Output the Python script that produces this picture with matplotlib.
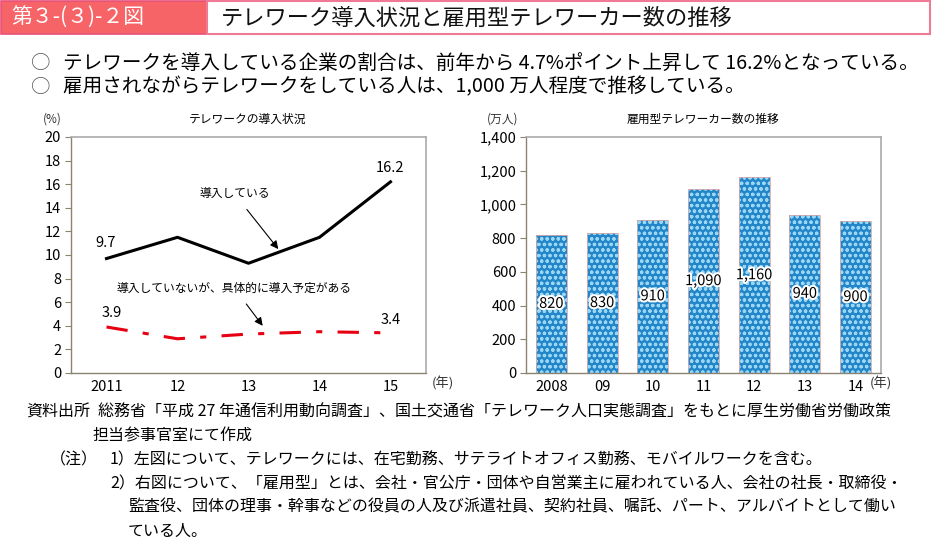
import matplotlib
matplotlib.use("Agg")
import matplotlib.pyplot as plt
import matplotlib.patches as mpatches
import matplotlib.patheffects as pe
import numpy as np

plt.rcParams['font.family'] = ['Noto Sans CJK JP', 'DejaVu Sans']
plt.rcParams['hatch.linewidth'] = 0.9

# 左図: テレワークの導入状況 (%)
years_l = ['2011', '12', '13', '14', '15']
introduced = [9.7, 11.5, 9.3, 11.5, 16.2]
planned = [3.9, 2.9, 3.3, 3.5, 3.4]

# 右図: 雇用型テレワーカー数 (万人)
years_r = ['2008', '09', '10', '11', '12', '13', '14']
workers = [820, 830, 910, 1090, 1160, 940, 900]

W, H = 932, 552
fig = plt.figure(figsize=(W / 100, H / 100), dpi=100)


def box(x0, y0, x1, y1):
    # ピクセル座標 -> figure 座標
    return [x0 / W, 1 - y1 / H, (x1 - x0) / W, (y1 - y0) / H]


def ftext(x, y, s, **kw):
    fig.text(x / W, 1 - y / H, s, **kw)


# ===== ヘッダー =====
fig.patches.append(mpatches.Rectangle((1 / W, 1 - 34 / H), 206 / W, 33 / H,
                                      transform=fig.transFigure, facecolor='#f76468',
                                      edgecolor='#e8507a', lw=1.2))
fig.patches.append(mpatches.Rectangle((207 / W, 1 - 34 / H), 723 / W, 33 / H,
                                      transform=fig.transFigure, facecolor='white',
                                      edgecolor='#f07a95', lw=1.5))
ftext(11, 18, '第３-(３)-２図', color='white', fontsize=15, va='center', ha='left')
ftext(221, 18, 'テレワーク導入状況と雇用型テレワーカー数の推移', color='#111111',
      fontsize=16, va='center', ha='left')

ftext(31, 63, '○', fontsize=14, va='center', color='#555555')
ftext(63, 63, 'テレワークを導入している企業の割合は、前年から 4.7%ポイント上昇して 16.2%となっている。',
      fontsize=14.1, va='center')
ftext(31, 87, '○', fontsize=14, va='center', color='#555555')
ftext(63, 87, '雇用されながらテレワークをしている人は、1,000 万人程度で推移している。',
      fontsize=14.1, va='center')

# ===== 左図 =====
ax1 = fig.add_axes(box(71, 137, 426, 373))
x = np.arange(len(years_l))
ax1.plot(x, introduced, color='black', lw=2.2)
ax1.plot(x, planned, color='#e60012', lw=2.2, dashes=(7, 5, 2, 5))
ax1.set_xlim(-0.5, 4.5)
ax1.set_ylim(0, 20)
ax1.set_yticks(range(0, 21, 2))
ax1.set_xticks(x)
ax1.set_xticklabels(years_l)

ax1.text(x[0] - 0.02, introduced[0] + 0.7, f'{introduced[0]}', ha='center', va='bottom', fontsize=10.5)
ax1.text(x[-1], introduced[-1] + 0.6, f'{introduced[-1]}', ha='center', va='bottom', fontsize=10.5)
ax1.text(x[0] + 0.08, planned[0] + 0.6, f'{planned[0]}', ha='center', va='bottom', fontsize=10.5)
ax1.text(x[-1], planned[-1] + 0.5, f'{planned[-1]}', ha='center', va='bottom', fontsize=10.5)

ax1.annotate('導入している', xy=(2.42, 10.5), xytext=(1.8, 15.2),
             ha='center', va='center', fontsize=8.5,
             arrowprops=dict(arrowstyle='-|>', color='black', lw=0.8,
                             shrinkA=6, shrinkB=0, mutation_scale=12))
ax1.annotate('導入していないが、具体的に導入予定がある', xy=(2.2, 4.0), xytext=(1.8, 7.2),
             ha='center', va='center', fontsize=8.5,
             arrowprops=dict(arrowstyle='-|>', color='black', lw=0.8,
                             shrinkA=6, shrinkB=0, mutation_scale=12))

ftext(52, 119, '(%)', fontsize=8.5, ha='center', va='center', color='#333333')
ftext(248, 119, 'テレワークの導入状況', fontsize=8.5, ha='center', va='center')
ftext(443, 384, '(年)', fontsize=9.5, ha='center', va='center', color='#333333')

# ===== 右図 =====
ax2 = fig.add_axes(box(526, 137, 881, 373))
xr = np.arange(len(years_r))
ax2.bar(xr, workers, width=0.61, color='#2286c8', edgecolor='#9ad6f5', hatch='ooo',
        linewidth=0)
ax2.bar(xr, workers, width=0.61, fill=False, edgecolor='#d9a9a9', linewidth=0.6)
for xi, v in zip(xr, workers):
    ax2.text(xi, v / 2, f'{v:,}', ha='center', va='center', fontsize=10.5,
             path_effects=[pe.withStroke(linewidth=3, foreground='white')])
ax2.set_xlim(-0.5, 6.5)
ax2.set_ylim(0, 1400)
ax2.set_yticks(range(0, 1401, 200))
ax2.set_yticklabels([f'{v:,}' for v in range(0, 1401, 200)])
ax2.set_xticks(xr)
ax2.set_xticklabels(years_r)

ftext(503, 119, '(万人)', fontsize=8.5, ha='center', va='center', color='#333333')
ftext(703, 119, '雇用型テレワーカー数の推移', fontsize=8.5, ha='center', va='center')
ftext(881, 384, '(年)', fontsize=9.5, ha='center', va='center', color='#333333')

for ax in (ax1, ax2):
    for s in ('top', 'right'):
        ax.spines[s].set_color('#aaaaaa')
        ax.spines[s].set_linewidth(1.2)
    for s in ('left', 'bottom'):
        ax.spines[s].set_color('#8c8470')
        ax.spines[s].set_linewidth(1.0)
    ax.tick_params(axis='y', direction='out', length=4, width=0.8, color='#8c8470',
                   labelsize=10.5, pad=3)
    ax.tick_params(axis='x', length=0, labelsize=10.5, pad=5)

# ===== 注記 =====
fs = 11.5
ftext(26, 412, '資料出所', fontsize=fs, va='center')
ftext(98, 412, '総務省「平成 27 年通信利用動向調査」、国土交通省「テレワーク人口実態調査」をもとに厚生労働省労働政策',
      fontsize=fs, va='center')
ftext(92, 436, '担当参事官室にて作成', fontsize=fs, va='center')
ftext(50, 460, '（注）', fontsize=fs, va='center')
ftext(110, 460, '1）左図について、テレワークには、在宅勤務、サテライトオフィス勤務、モバイルワークを含む。',
      fontsize=fs, va='center')
ftext(110, 484, '2）右図について、「雇用型」とは、会社・官公庁・団体や自営業主に雇われている人、会社の社長・取締役・',
      fontsize=fs, va='center')
ftext(128, 507, '監査役、団体の理事・幹事などの役員の人及び派遣社員、契約社員、嘱託、パート、アルバイトとして働い',
      fontsize=fs, va='center')
ftext(128, 531, 'ている人。', fontsize=fs, va='center')

fig.savefig('out.png', dpi=100)
